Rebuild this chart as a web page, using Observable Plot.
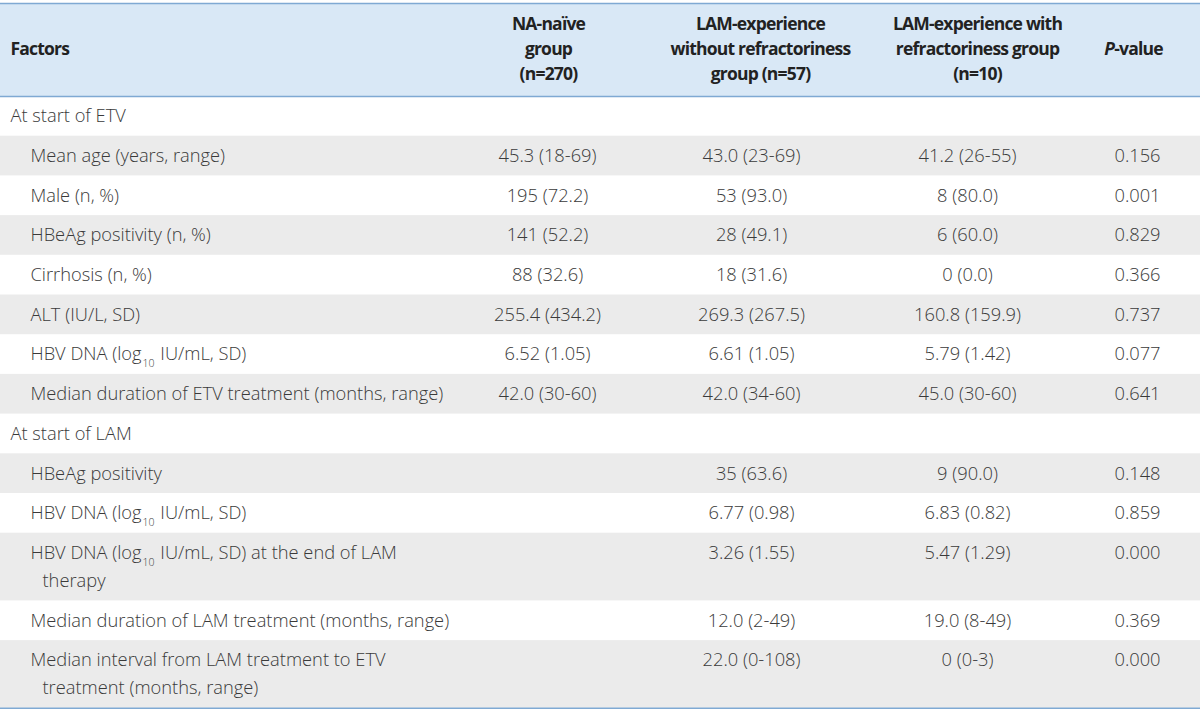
<!DOCTYPE html>
<html><head><meta charset="utf-8">
<script src="https://cdn.jsdelivr.net/npm/d3@7"></script>
<script src="https://cdn.jsdelivr.net/npm/@observablehq/plot@0.6"></script>
<style>body{margin:0;background:#fff} svg{display:block}</style>
</head><body><div id="chart"></div>
<script>
// ---------- data ----------
const columnHeaders = [
  ["Factors"],
  ["NA-naïve", "group", "(n=270)"],
  ["LAM-experience", "without refractoriness", "group (n=57)"],
  ["LAM-experience with", "refractoriness group", "(n=10)"],
  ["P-value"]
];
const sections = ["At start of ETV", "At start of LAM"];

const etvFactors = [
  ["Mean age (years, range)"],
  ["Male (n, %)"],
  ["HBeAg positivity (n, %)"],
  ["Cirrhosis (n, %)"],
  ["ALT (IU/L, SD)"],
  ["HBV DNA (log₁₀ IU/mL, SD)"],
  ["Median duration of ETV treatment (months, range)"]
];
const etvNaive    = ["45.3 (18-69)", "195 (72.2)", "141 (52.2)", "88 (32.6)", "255.4 (434.2)", "6.52 (1.05)", "42.0 (30-60)"];
const etvLamNoRef = ["43.0 (23-69)", "53 (93.0)", "28 (49.1)", "18 (31.6)", "269.3 (267.5)", "6.61 (1.05)", "42.0 (34-60)"];
const etvLamRef   = ["41.2 (26-55)", "8 (80.0)", "6 (60.0)", "0 (0.0)", "160.8 (159.9)", "5.79 (1.42)", "45.0 (30-60)"];
const etvP        = ["0.156", "0.001", "0.829", "0.366", "0.737", "0.077", "0.641"];

const lamFactors = [
  ["HBeAg positivity"],
  ["HBV DNA (log₁₀ IU/mL, SD)"],
  ["HBV DNA (log₁₀ IU/mL, SD) at the end of LAM", "therapy"],
  ["Median duration of LAM treatment (months, range)"],
  ["Median interval from LAM treatment to ETV", "treatment (months, range)"]
];
const lamNaive    = ["", "", "", "", ""];
const lamLamNoRef = ["35 (63.6)", "6.77 (0.98)", "3.26 (1.55)", "12.0 (2-49)", "22.0 (0-108)"];
const lamLamRef   = ["9 (90.0)", "6.83 (0.82)", "5.47 (1.29)", "19.0 (8-49)", "0 (0-3)"];
const lamP        = ["0.148", "0.859", "0.000", "0.369", "0.000"];

// ---------- layout ----------
const W = 1200, H = 713;
const headerTop = 3, headerBottom = 96;
const rowH = 39.7, lineGap = 28, headerLineGap = 25;
const headerX = [10, 548, 760, 977, 1133];
const headerAnchor = ["start", "middle", "middle", "middle", "middle"];
const sectionX = 10, factorX = 30, contX = 42;
const valueX = [547, 751, 967, 1137];
const C = {
  headFill: "#d9e8f6", rule: "#7fa9d3", shade: "#ebebeb",
  headText: "#222222", bodyText: "#3a3a3a"
};

// ---------- build table rows ----------
const groups = [
  {title: sections[0], factors: etvFactors, cols: [etvNaive, etvLamNoRef, etvLamRef, etvP]},
  {title: sections[1], factors: lamFactors, cols: [lamNaive, lamLamNoRef, lamLamRef, lamP]}
];
const rows = [];
let yCur = headerBottom;
for (const g of groups) {
  rows.push({kind: "section", lines: [g.title], values: [], y1: yCur, y2: yCur + rowH, shade: false});
  yCur += rowH;
  g.factors.forEach((lines, i) => {
    const h = rowH + (lines.length - 1) * lineGap;
    rows.push({kind: "item", lines, values: g.cols.map(c => c[i]), y1: yCur, y2: yCur + h, shade: i % 2 === 0});
    yCur += h;
  });
}
const tableBottom = yCur;

const headTexts = [];
columnHeaders.forEach((lines, ci) => {
  const mid = (headerTop + headerBottom) / 2 - 1;
  lines.forEach((t, li) => headTexts.push({
    x: headerX[ci], y: mid + (li - (lines.length - 1) / 2) * headerLineGap, text: t, anchor: headerAnchor[ci]
  }));
});
const labelTexts = [], valueTexts = [];
for (const r of rows) {
  r.lines.forEach((t, li) => labelTexts.push({
    x: r.kind === "section" ? sectionX : (li === 0 ? factorX : contX),
    y: r.y1 + rowH / 2 + li * lineGap, text: t
  }));
  r.values.forEach((v, vi) => { if (v) valueTexts.push({x: valueX[vi], y: r.y1 + rowH / 2, text: v}); });
}

const font = "'Open Sans', 'Noto Sans', sans-serif";
const bodyStyle = {fontSize: 18.3, fontWeight: 300, fill: C.bodyText, lineAnchor: "middle"};
const headStyle = {fontSize: 17.5, fontWeight: 700, fill: C.headText, lineAnchor: "middle"};
const plot = Plot.plot({
  width: W, height: H,
  marginTop: 0, marginRight: 0, marginBottom: 0, marginLeft: 0,
  x: {domain: [0, W], range: [0, W], axis: null},
  y: {domain: [0, H], range: [0, H], axis: null},
  style: {fontFamily: font, background: "#fff"},
  marks: [
    Plot.rect(rows.filter(r => r.shade), {x1: () => 0, x2: () => W, y1: "y1", y2: "y2", fill: C.shade}),
    Plot.rect([{y1: headerTop, y2: headerBottom}], {x1: () => 0, x2: () => W, y1: "y1", y2: "y2", fill: C.headFill}),
    Plot.ruleY([headerTop, headerBottom, tableBottom], {x1: 0, x2: W, stroke: C.rule, strokeWidth: 1.6}),
    Plot.text(headTexts.filter(d => d.anchor === "start"), {x: "x", y: "y", text: "text", textAnchor: "start", ...headStyle}),
    Plot.text(headTexts.filter(d => d.anchor === "middle"), {x: "x", y: "y", text: "text", textAnchor: "middle", ...headStyle}),
    Plot.text(labelTexts, {x: "x", y: "y", text: "text", textAnchor: "start", ...bodyStyle}),
    Plot.text(valueTexts, {x: "x", y: "y", text: "text", textAnchor: "middle", ...bodyStyle})
  ]
});

// header letter-spacing, subscripts and italics as real tspans
const NS = "http://www.w3.org/2000/svg";
plot.querySelectorAll("text").forEach(t => {
  const s = t.textContent;
  if (t.closest("g") && t.closest("g").getAttribute("font-weight") === "700") t.setAttribute("letter-spacing", "-0.8");
  if (s.includes("₁₀")) {
    const [a, b] = s.split("₁₀");
    t.textContent = "";
    t.append(a);
    const sub = document.createElementNS(NS, "tspan");
    sub.setAttribute("dx", "1"); sub.setAttribute("dy", "7"); sub.setAttribute("font-size", "10.5"); sub.textContent = "10";
    const rest = document.createElementNS(NS, "tspan");
    rest.setAttribute("dx", "1"); rest.setAttribute("dy", "-7"); rest.textContent = b;
    t.append(sub, rest);
  } else if (s === "P-value") {
    t.textContent = "";
    const p = document.createElementNS(NS, "tspan");
    p.setAttribute("font-style", "italic"); p.textContent = "P";
    t.append(p, "-value");
  }
});
document.getElementById("chart").append(plot);
</script>
</body></html>
